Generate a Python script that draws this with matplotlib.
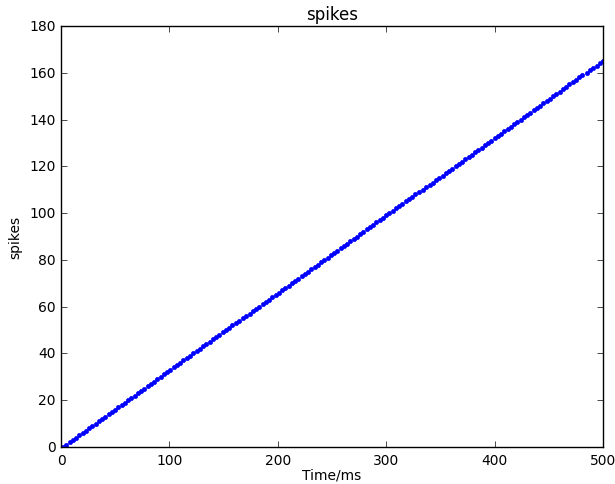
import matplotlib
matplotlib.use("Agg")
from matplotlib import pyplot as plt

# spike times (ms), one per spike
spike_times = [
    2, 5, 8, 11, 14, 17, 20, 23, 26, 29,
    32, 35, 38, 41, 44, 47, 50, 53, 56, 59,
    62, 65, 68, 71, 74, 77, 80, 83, 86, 89,
    92, 95, 98, 101, 104, 107, 110, 113, 116, 119,
    122, 125, 128, 131, 134, 137, 140, 143, 146, 149,
    152, 155, 158, 161, 164, 168, 171, 174, 177, 180,
    183, 186, 189, 192, 195, 198, 201, 204, 207, 210,
    213, 216, 219, 222, 225, 228, 231, 234, 237, 240,
    243, 246, 249, 252, 255, 258, 261, 264, 267, 270,
    273, 276, 279, 282, 285, 288, 291, 294, 297, 300,
    303, 306, 309, 312, 315, 318, 321, 324, 327, 330,
    334, 337, 340, 343, 346, 349, 352, 355, 358, 361,
    364, 367, 370, 373, 376, 379, 382, 385, 388, 391,
    394, 397, 400, 403, 406, 409, 412, 415, 418, 421,
    424, 427, 430, 433, 436, 439, 442, 445, 448, 451,
    454, 457, 460, 463, 466, 469, 472, 475, 478, 481,
    485, 488, 491, 494, 497, 500,
]
# cumulative spike count
spike_count = list(range(len(spike_times)))

plt.style.use("classic")
plt.rcParams["font.size"] = 10
fig = plt.figure(figsize=(6.15, 4.85), dpi=100)
ax = fig.add_axes([0.0992, 0.0763, 0.8813, 0.868])
ax.plot(spike_times, spike_count, "b.", markersize=6)
ax.set_xlim(0, 500)
ax.set_ylim(0, 180)
ax.set_title("spikes")
ax.set_xlabel("Time/ms", labelpad=1)
ax.set_ylabel("spikes")
fig.savefig("out.png", dpi=100)
